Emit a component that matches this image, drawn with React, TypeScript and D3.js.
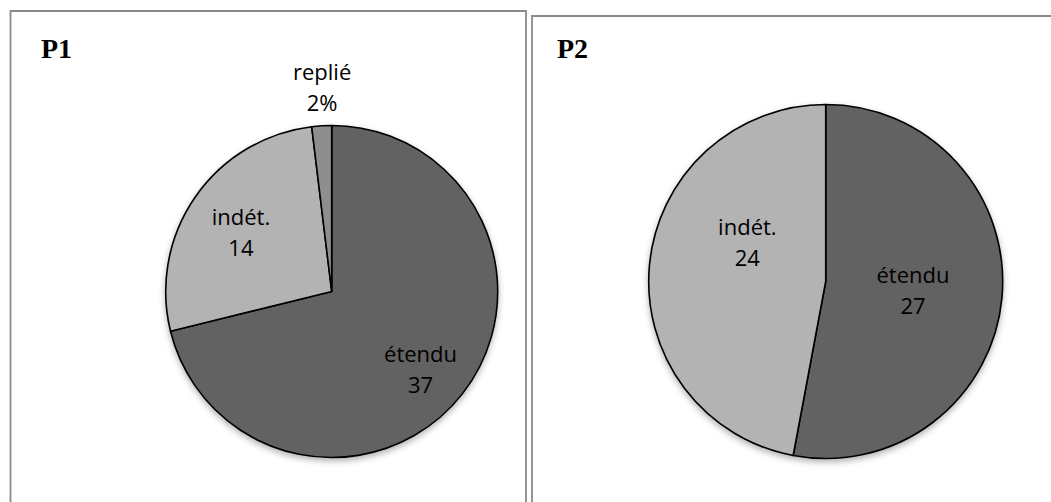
import React from "react";
import * as d3 from "d3";

const p1Categories = ["étendu", "indét.", "replié"];
const p1Values = [37, 14, 1];
const p1Labels = ["37", "14", "2%"];

const p2Categories = ["étendu", "indét."];
const p2Values = [27, 24];
const p2Labels = ["27", "24"];

const sliceColors: Record<string, string> = {
  "étendu": "#626262",
  "indét.": "#b3b3b3",
  "replié": "#8e8e8e",
};

// label placement: [angle in degrees clockwise from top, radius fraction]
const p1LabelPolar = [
  [133.9, 0.743],
  [299.3, 0.627],
  [357.2, 1.18],
];
const p2LabelPolar = [
  [101.3, 0.503],
  [291.9, 0.477],
];

type PieProps = {
  cx: number;
  cy: number;
  r: number;
  categories: string[];
  values: number[];
  labels: string[];
  polar: number[][];
};

function Pie({ cx, cy, r, categories, values, labels, polar }: PieProps) {
  const data = categories.map((c, i) => ({ c, v: values[i], l: labels[i] }));
  const arcs = d3.pie<any>().sort(null).value((d) => d.v)(data);
  const arc = d3.arc<any>().innerRadius(0).outerRadius(r);
  const lineGap = 31;
  return (
    <g transform={`translate(${cx},${cy})`}>
      <g filter="url(#pieShadow)">
        {arcs.map((a, i) => (
          <path
            key={i}
            d={arc(a) || ""}
            fill={sliceColors[a.data.c]}
            stroke="#000"
            strokeWidth={1.6}
            strokeLinejoin="round"
          />
        ))}
      </g>
      {arcs.map((a, i) => {
        const ang = (polar[i][0] * Math.PI) / 180;
        const rr = polar[i][1] * r;
        const x = rr * Math.sin(ang);
        const y = -rr * Math.cos(ang);
        return (
          <text
            key={"t" + i}
            x={x}
            y={y}
            textAnchor="middle"
            fontFamily="'Open Sans', sans-serif"
            fontSize={22}
            fill="#000"
          >
            <tspan x={x} y={y - lineGap / 2}>
              {a.data.c}
            </tspan>
            <tspan x={x} y={y + lineGap / 2}>
              {a.data.l}
            </tspan>
          </text>
        );
      })}
    </g>
  );
}

export default function App() {
  const W = 1051;
  const H = 502;
  return (
    <svg
      width={W}
      height={H}
      style={{ position: "absolute", left: 0, top: 0, background: "#fff" }}
    >
      <defs>
        <filter id="pieShadow" x="-20%" y="-20%" width="140%" height="140%">
          <feDropShadow dx="0" dy="3" stdDeviation="3" floodColor="#000" floodOpacity="0.3" />
        </filter>
      </defs>
      <rect x={0} y={0} width={W} height={H} fill="#fff" />
      <path d={`M10.5,${H + 5} L10.5,11 L526,11 L526,${H + 5}`} fill="none" stroke="#8a8a8a" strokeWidth={1.8} />
      <path d={`M532,${H + 5} L532,16 L${W + 5},16`} fill="none" stroke="#8a8a8a" strokeWidth={1.8} />
      <text x={41} y={58} fontFamily="'Liberation Serif', serif" fontWeight="bold" fontSize={28}>
        P1
      </text>
      <text x={557} y={58} fontFamily="'Liberation Serif', serif" fontWeight="bold" fontSize={28}>
        P2
      </text>
      <Pie
        cx={331.7}
        cy={291.5}
        r={166}
        categories={p1Categories}
        values={p1Values}
        labels={p1Labels}
        polar={p1LabelPolar}
      />
      <Pie
        cx={825.7}
        cy={281.5}
        r={177}
        categories={p2Categories}
        values={p2Values}
        labels={p2Labels}
        polar={p2LabelPolar}
      />
    </svg>
  );
}
